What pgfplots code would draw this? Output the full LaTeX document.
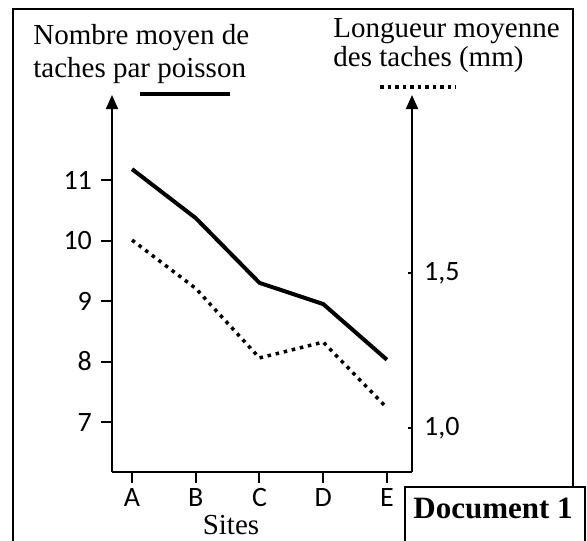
\documentclass[border=0pt]{standalone}
\usepackage{pgfplots}
\pgfplotsset{compat=1.18}
\usepackage{fontspec}
\setmainfont{Liberation Serif}
\newfontfamily\carlito{Carlito}
\usetikzlibrary{arrows.meta}
\begin{document}
\begin{tikzpicture}
\useasboundingbox (0,0) rectangle (293.5pt,-270pt);
\clip (0,0) rectangle (293.5pt,-270pt);
\draw[line width=1pt] (6.5pt,-300pt) -- (6.5pt,-4.5pt) -- (286.5pt,-4.5pt) -- (286.5pt,-300pt);
\begin{axis}[
  at={(56pt,-236pt)}, anchor=south west,
  width=150pt, height=188.5pt, scale only axis,
  xmin=-0.315, xmax=4.394, ymin=6.174, ymax=12.405,
  axis x line=bottom, axis y line=left,
  axis line style={line width=1pt},
  x axis line style={-},
  y axis line style={-{Triangle[length=7pt,width=6pt]}},
  xtick={0,1,2,3,4}, xticklabels={A,B,C,D,E},
  ytick={7,8,9,10,11},
  tick align=outside, major tick length=5.5pt,
  tick style={line width=1pt,black},
  ticklabel style={font=\carlito\fontsize{14}{15}\selectfont},
  /pgf/number format/assume math mode=true,
  yticklabel style={xshift=-1pt},
  xticklabel style={inner ysep=2.5pt},
  clip=false,
]
\addplot[black, line width=2pt] coordinates {(0,11.18) (1,10.37) (2,9.3) (3,8.95) (4,8.03)};
\end{axis}
\begin{axis}[
  at={(56pt,-236pt)}, anchor=south west,
  width=150pt, height=188.5pt, scale only axis,
  xmin=-0.315, xmax=4.394, ymin=0.858, ymax=2.074,
  axis x line=none, axis y line=right,
  axis line style={line width=1pt},
  y axis line style={-{Triangle[length=7pt,width=6pt]}},
  ytick={1.0,1.5}, yticklabels={{1,0},{1,5}},
  tick align=inside, major tick length=2pt,
  tick style={line width=1pt,black},
  ticklabel style={font=\carlito\fontsize{14}{15}\selectfont},
  yticklabel style={xshift=2.5pt},
  clip=false,
]
\addplot[black, line width=1.75pt, dash pattern=on 1.75pt off 2.4pt] coordinates {(0,1.606) (1,1.45) (2,1.226) (3,1.277) (4,1.065)};
\end{axis}
\node[anchor=base west, inner sep=0pt, font=\fontsize{14.5}{17}\selectfont] at (16.5pt,-22.5pt) {Nombre moyen de};
\node[anchor=base west, inner sep=0pt, font=\fontsize{14.5}{17}\selectfont] at (16.5pt,-38.5pt) {taches par poisson};
\node[anchor=base west, inner sep=0pt, font=\fontsize{14.5}{17}\selectfont] at (166.5pt,-19pt) {Longueur moyenne};
\node[anchor=base west, inner sep=0pt, font=\fontsize{14.5}{17}\selectfont] at (166.5pt,-33.5pt) {des taches (mm)};
\draw[line width=2pt] (70pt,-47pt) -- (115pt,-47pt);
\draw[line width=1.75pt, dash pattern=on 1.75pt off 2pt] (190pt,-43.5pt) -- (228pt,-43.5pt);
\node[anchor=base, inner sep=0pt, font=\fontsize{14.5}{17}\selectfont] at (115.5pt,-267pt) {Sites};
\draw[line width=1pt, fill=white] (202.5pt,-300pt) -- (202.5pt,-243.5pt) -- (292.5pt,-243.5pt) -- (292.5pt,-300pt);
\node[anchor=base west, inner sep=0pt, font=\bfseries\fontsize{15.5}{18}\selectfont] at (206.5pt,-259pt) {Document 1};
\end{tikzpicture}
\end{document}
